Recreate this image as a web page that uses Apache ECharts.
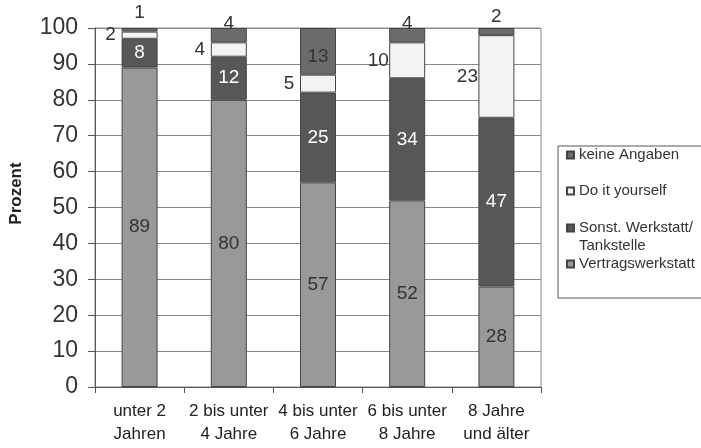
<!DOCTYPE html>
<html>
<head>
<meta charset="utf-8">
<script src="https://cdn.jsdelivr.net/npm/echarts@6/dist/echarts.min.js"></script>
<style>
  html, body { margin: 0; padding: 0; background: #fff; }
  #chart { width: 701px; height: 448px; }
</style>
</head>
<body>
<div id="chart"></div>
<script>
// Age groups of the car (x axis)
const categories = ['unter 2\nJahren', '2 bis unter\n4 Jahre', '4 bis unter\n6 Jahre', '6 bis unter\n8 Jahre', '8 Jahre\nund älter'];

// Share of each type of workshop, in percent
const vertragswerkstatt = [89, 80, 57, 52, 28];
const sonstWerkstatt = [8, 12, 25, 34, 47];
const doItYourself = [2, 4, 5, 10, 23];
const keineAngaben = [1, 4, 13, 4, 2];

const names = {
  keine: 'keine Angaben',
  diy: 'Do it yourself',
  sonst: 'Sonst. Werkstatt/ Tankstelle',
  vertrag: 'Vertragswerkstatt'
};

const FONT = '"Liberation Sans", Arial, sans-serif';
const BORDER = '#444';

// Placement of the "keine Angaben" labels (small segments sit above the bar)
const keinePlacement = [
  { position: 'top', distance: 6 },
  { position: 'top', distance: -5 },
  { position: 'inside', offset: [0, 5] },
  { position: 'top', distance: -5 },
  { position: 'top', distance: 2 }
];

const labelBase = { show: true, fontFamily: FONT, fontSize: 19, color: '#333' };

const chart = echarts.init(document.getElementById('chart'), null, { renderer: 'canvas' });

const legendText = { fontFamily: FONT, fontSize: 15, color: '#333', lineHeight: 18 };

chart.setOption({
  animation: false,
  backgroundColor: '#fff',
  grid: {
    left: 93, right: 160, top: 28, bottom: 61,
    show: true, borderColor: '#8a8a8a', borderWidth: 1
  },
  legend: [
    {
      data: [names.keine, names.diy],
      orient: 'vertical', left: 558, top: 146,
      padding: [0, 40, 98, 8],
      itemGap: 18, itemWidth: 7, itemHeight: 7,
      icon: 'rect',
      borderColor: '#555', borderWidth: 1,
      selectedMode: false,
      textStyle: legendText
    },
    {
      data: [names.sonst],
      orient: 'vertical', left: 558, top: 201,
      padding: [0, 0, 0, 8],
      itemWidth: 7, itemHeight: 7,
      icon: 'rect',
      selectedMode: false,
      formatter: () => '\nSonst. Werkstatt/\nTankstelle',
      textStyle: legendText
    },
    {
      data: [names.vertrag],
      orient: 'vertical', left: 558, top: 255,
      padding: [0, 0, 0, 8],
      itemWidth: 7, itemHeight: 7,
      icon: 'rect',
      selectedMode: false,
      textStyle: legendText
    }
  ],
  xAxis: {
    type: 'category',
    data: categories,
    axisLine: { lineStyle: { color: '#555' } },
    axisTick: { show: true, alignWithLabel: false, length: 6, lineStyle: { color: '#555' } },
    axisLabel: { fontFamily: FONT, fontSize: 17, color: '#222', lineHeight: 23, margin: 13, interval: 0 },
    splitLine: { show: false }
  },
  yAxis: {
    type: 'value',
    min: 0, max: 100, interval: 10,
    name: 'Prozent',
    nameLocation: 'middle',
    nameRotate: 90,
    nameGap: 70,
    nameTextStyle: { fontFamily: FONT, fontSize: 17, fontWeight: 'bold', color: '#222', padding: [0, 0, 0, 28] },
    axisLine: { show: true, lineStyle: { color: '#555' } },
    axisTick: { show: true, length: 7, lineStyle: { color: '#555' } },
    axisLabel: { fontFamily: FONT, fontSize: 23, color: '#333', margin: 17 },
    splitLine: { show: true, lineStyle: { color: '#8a8a8a', width: 1 } }
  },
  series: [
    {
      name: names.vertrag, type: 'bar', stack: 'total', barWidth: 36,
      data: vertragswerkstatt,
      itemStyle: { color: '#999999', borderColor: BORDER, borderWidth: 1 },
      label: Object.assign({}, labelBase, { position: 'inside' })
    },
    {
      name: names.sonst, type: 'bar', stack: 'total', barWidth: 36,
      data: sonstWerkstatt,
      itemStyle: { color: '#575757', borderColor: BORDER, borderWidth: 1 },
      label: Object.assign({}, labelBase, { position: 'inside', color: '#fff' })
    },
    {
      name: names.diy, type: 'bar', stack: 'total', barWidth: 36,
      data: doItYourself,
      itemStyle: { color: '#f3f3f3', borderColor: BORDER, borderWidth: 1 },
      label: Object.assign({}, labelBase, { position: 'left', distance: 11, align: 'center' })
    },
    {
      name: names.keine, type: 'bar', stack: 'total', barWidth: 36,
      data: keineAngaben.map((v, i) => ({ value: v, label: keinePlacement[i] })),
      itemStyle: { color: '#6b6b6b', borderColor: BORDER, borderWidth: 1 },
      label: Object.assign({}, labelBase)
    }
  ]
});
</script>
</body>
</html>
